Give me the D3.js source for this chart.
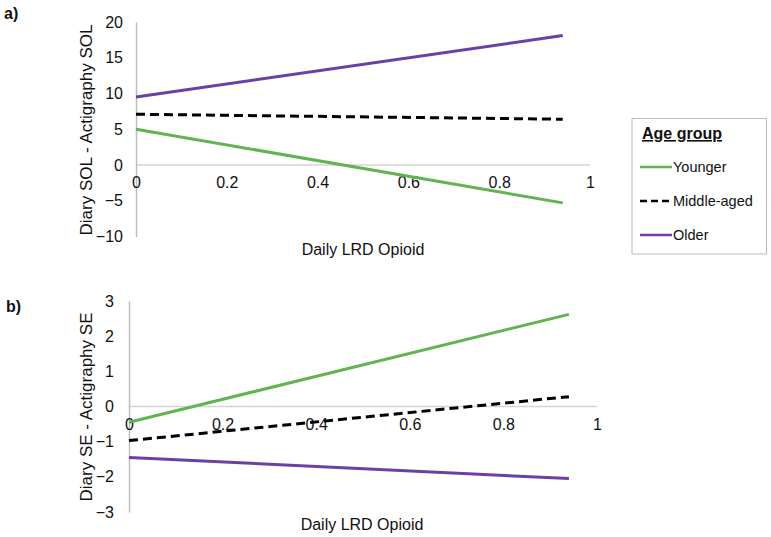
<!DOCTYPE html>
<html><head><meta charset="utf-8">
<script src="https://cdn.jsdelivr.net/npm/d3@7"></script>
<style>body{margin:0;background:#fff;}text{font-family:"Liberation Sans",Arial,sans-serif;}</style>
</head><body>
<svg id="c" width="771" height="537"></svg>
<script>
const groups = ["Younger", "Middle-aged", "Older"];
const colors = ["#62b352", "#000000", "#6b3fa6"];
const xEnds = [0, 0.94];
const xTicks = [0, 0.2, 0.4, 0.6, 0.8, 1];
// Panel a: Diary SOL - Actigraphy SOL
const aYounger = [5.0, -5.3];
const aMiddle = [7.1, 6.4];
const aOlder = [9.5, 18.1];
const aYTicks = [-10, -5, 0, 5, 10, 15, 20];
// Panel b: Diary SE - Actigraphy SE
const bYounger = [-0.45, 2.62];
const bMiddle = [-0.97, 0.28];
const bOlder = [-1.45, -2.05];
const bYTicks = [-3, -2, -1, 0, 1, 2, 3];

const svg = d3.select("#c");

function panel(opt) {
  const x = d3.scaleLinear().domain([0, 1]).range(opt.xr);
  const y = d3.scaleLinear().domain(opt.yd).range(opt.yr);
  const g = svg.append("g");
  // zero gridline
  g.append("line").attr("x1", x(0)).attr("x2", x(1)).attr("y1", y(0)).attr("y2", y(0))
    .attr("stroke", "#d4d4d4").attr("stroke-width", 1.5);
  // y axis
  const ya = d3.axisLeft(y).tickValues(opt.yTicks).tickSize(0).tickPadding(opt.pad).tickFormat(d3.format("d"));
  const yg = g.append("g").attr("transform", `translate(${x(0)},0)`).call(ya);
  yg.select(".domain").attr("stroke", "#bdbdbd").attr("stroke-width", 1.5);
  yg.selectAll("text").attr("font-size", 16).attr("fill", "#111").style("font-family", "Liberation Sans, Arial, sans-serif");
  // x axis labels on zero line
  const xa = d3.axisBottom(x).tickValues(xTicks).tickSize(0).tickPadding(12).tickFormat(d => d === 0 || d === 1 ? d3.format("d")(d) : d3.format(".1f")(d));
  const xg = g.append("g").attr("transform", `translate(0,${y(0)})`).call(xa);
  xg.select(".domain").remove();
  xg.selectAll("text").attr("font-size", 16).attr("fill", "#111").style("font-family", "Liberation Sans, Arial, sans-serif");
  // lines
  const line = d3.line().x((d, i) => x(xEnds[i])).y(d => y(d));
  opt.series.forEach((s, i) => {
    const p = g.append("path").datum(s).attr("d", line).attr("fill", "none")
      .attr("stroke", colors[i]).attr("stroke-width", 3);
    if (i === 1) p.attr("stroke-dasharray", "9,5");
  });
  // titles
  g.append("text").attr("x", opt.xt[0]).attr("y", opt.xt[1]).attr("text-anchor", "middle")
    .attr("font-size", 16).attr("fill", "#111").text("Daily LRD Opioid");
  g.append("text").attr("transform", `translate(${opt.yt[0]},${opt.yt[1]}) rotate(-90)`)
    .attr("text-anchor", "middle").attr("dominant-baseline", "central")
    .attr("font-size", 17).attr("fill", "#111").text(opt.ytitle);
  g.append("text").attr("x", opt.lab[0]).attr("y", opt.lab[1]).attr("font-size", 16)
    .attr("font-weight", "bold").attr("fill", "#111").text(opt.label);
}

panel({xr: [136, 590], yd: [-10, 20], yr: [236.5, 22], yTicks: aYTicks, pad: 13,
  series: [aYounger, aMiddle, aOlder], xt: [363, 255], yt: [86, 130],
  ytitle: "Diary SOL - Actigraphy SOL", lab: [4, 19], label: "a)"});
panel({xr: [129, 597], yd: [-3, 3], yr: [512, 301], yTicks: bYTicks, pad: 15,
  series: [bYounger, bMiddle, bOlder], xt: [362, 530], yt: [86, 407],
  ytitle: "Diary SE - Actigraphy SE", lab: [6, 312], label: "b)"});

// legend
const lg = svg.append("g");
lg.append("rect").attr("x", 632).attr("y", 118.5).attr("width", 134.5).attr("height", 135.5)
  .attr("fill", "#fff").attr("stroke", "#bbbbbb").attr("stroke-width", 1);
lg.append("text").attr("x", 642).attr("y", 139).attr("font-size", 16).attr("font-weight", "bold")
  .attr("text-decoration", "underline").attr("fill", "#111").text("Age group");
const ly = [167, 201, 235];
groups.forEach((name, i) => {
  const l = lg.append("line").attr("x1", 640).attr("x2", 672).attr("y1", ly[i]).attr("y2", ly[i])
    .attr("stroke", colors[i]).attr("stroke-width", 2.5);
  if (i === 1) l.attr("stroke-dasharray", "7,4");
  lg.append("text").attr("x", 673).attr("y", ly[i]).attr("dominant-baseline", "central")
    .attr("font-size", 14.5).attr("fill", "#111").text(name);
});
</script>
</body></html>
